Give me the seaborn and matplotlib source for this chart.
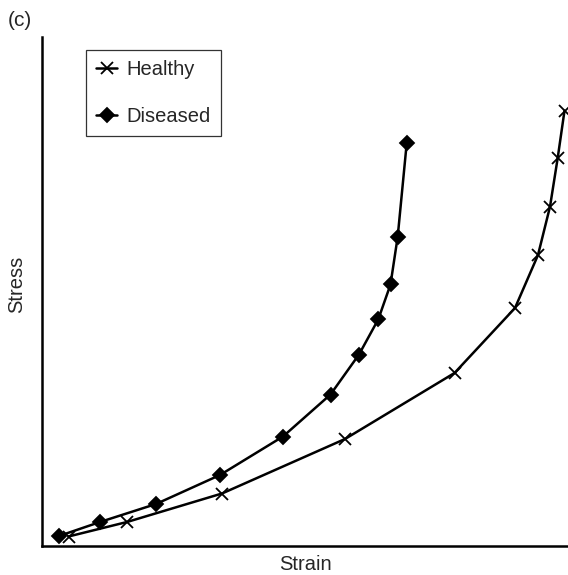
import numpy as np
import pandas as pd
import matplotlib.pyplot as plt
import seaborn as sns

sns.set_style('white')
plt.rcParams['font.family'] = ['Liberation Sans', 'DejaVu Sans']

# Values (arbitrary units)
healthy_strain = [0.265, 0.85, 1.80, 3.03, 4.125, 4.73, 4.96, 5.08, 5.157, 5.225]
healthy_stress = [0.095, 0.24, 0.525, 1.07, 1.73, 2.38, 2.91, 3.393, 3.88, 4.353]
diseased_strain = [0.17, 0.58, 1.14, 1.78, 2.41, 2.885, 3.17, 3.363, 3.485, 3.557, 3.647]
diseased_stress = [0.10, 0.24, 0.42, 0.71, 1.095, 1.515, 1.915, 2.267, 2.615, 3.093, 4.027]
groups = ['Healthy', 'Diseased']
markers = {'Healthy': 'x', 'Diseased': 'D'}

data = pd.DataFrame({
    'Strain': healthy_strain + diseased_strain,
    'Stress': healthy_stress + diseased_stress,
    'group': ['Healthy'] * len(healthy_strain) + ['Diseased'] * len(diseased_strain),
})

fig = plt.figure(figsize=(5.68, 5.75), dpi=100)
ax = fig.add_axes([42 / 568, 29 / 575, 526 / 568, 509 / 575])

for g in groups:
    sub = data[data['group'] == g]
    sns.lineplot(data=sub, x='Strain', y='Stress', color='black',
                 marker=markers[g], estimator=None, sort=False, ax=ax,
                 linewidth=1.8, markersize=6.8 if g == 'Diseased' else 8,
                 markeredgecolor='black', markeredgewidth=1.3)

ax.set_xlim(0, 5.26)
ax.set_ylim(0, 5.09)
ax.set_xticks([])
ax.set_yticks([])
sns.despine(ax=ax)
for s in ['left', 'bottom']:
    ax.spines[s].set_color('black')
    ax.spines[s].set_linewidth(1.8)

ax.set_xlabel('Strain', fontsize=14.5, va='center')
ax.set_ylabel('Stress', fontsize=14.5, va='center')
ax.xaxis.set_label_coords(0.5, -0.0354)
ax.yaxis.set_label_coords(-0.0475, 0.514)

leg = ax.legend(ax.lines[:2], groups, loc='upper left',
                bbox_to_anchor=(0.0837, 0.9745), borderaxespad=0,
                fontsize=14.5, handlelength=1.05, handletextpad=0.45,
                labelspacing=1.4, borderpad=0.5, fancybox=False,
                frameon=True, edgecolor='black')
leg.get_frame().set_linewidth(0.9)

fig.text(8 / 568, 1 - 21 / 575, '(c)', fontsize=15, va='center', ha='left')

fig.savefig('out.png', dpi=100)
